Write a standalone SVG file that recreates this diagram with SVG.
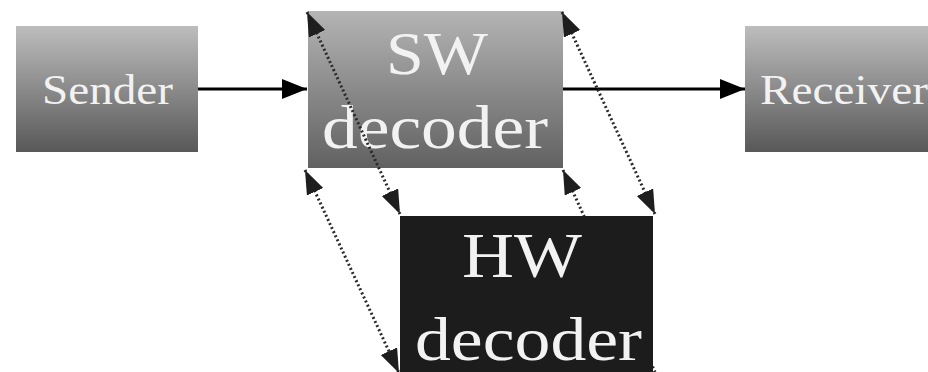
<svg xmlns="http://www.w3.org/2000/svg" width="928" height="372" viewBox="0 0 928 372">
<style>
.lbl{font-family:"Liberation Serif","Times New Roman",serif;fill:#f2f2f2}
.flow{stroke:#000;stroke-width:3;fill:none}
.dot{stroke:#2a2a2a;stroke-width:3;stroke-dasharray:2 2.5;fill:none}
</style>
<defs>
<linearGradient id="gSide" x1="0" y1="0" x2="0" y2="1">
<stop offset="0" stop-color="#bdbdbd"/>
<stop offset="1" stop-color="#585858"/>
</linearGradient>
<linearGradient id="gSW" x1="0" y1="0" x2="0" y2="1">
<stop offset="0" stop-color="#b4b4b4"/>
<stop offset="1" stop-color="#616161"/>
</linearGradient>
<marker id="solidHead" markerUnits="userSpaceOnUse" markerWidth="26" markerHeight="22" refX="25" refY="10" orient="auto">
<path d="M0,0 L25,10 L0,20 z" fill="#000"/>
</marker>
<marker id="dotHead" markerUnits="userSpaceOnUse" markerWidth="26" markerHeight="20" refX="24" refY="9" orient="auto-start-reverse">
<path d="M0,0 L24,9 L0,18 z" fill="#1e1e1e"/>
</marker>
</defs>
<rect width="928" height="372" fill="#fff"/>
<g id="sender">
<rect x="16" y="26" width="182" height="126" fill="url(#gSide)"/>
<text class="lbl" x="42" y="104" font-size="42" textLength="131" lengthAdjust="spacingAndGlyphs">Sender</text>
</g>
<g id="sw-decoder">
<rect x="308" y="11" width="255" height="157" fill="url(#gSW)"/>
<text class="lbl" x="386" y="74" font-size="62" textLength="102" lengthAdjust="spacingAndGlyphs">SW</text>
<text class="lbl" x="322" y="148" font-size="62" textLength="226" lengthAdjust="spacingAndGlyphs">decoder</text>
</g>
<g id="receiver">
<rect x="745" y="26" width="190" height="126" fill="url(#gSide)"/>
<text class="lbl" x="760" y="104" font-size="42" textLength="168" lengthAdjust="spacingAndGlyphs">Receiver</text>
</g>
<g id="connectors">
<line class="flow" x1="198" y1="89" x2="307" y2="89" marker-end="url(#solidHead)"/>
<line class="flow" x1="563" y1="89" x2="745" y2="89" marker-end="url(#solidHead)"/>
<line class="dot" x1="307" y1="12" x2="400" y2="214" marker-start="url(#dotHead)" marker-end="url(#dotHead)"/>
<line class="dot" x1="562" y1="12" x2="655" y2="214" marker-start="url(#dotHead)" marker-end="url(#dotHead)"/>
<line class="dot" x1="305" y1="170" x2="399" y2="373" marker-start="url(#dotHead)" marker-end="url(#dotHead)"/>
<line class="dot" x1="563" y1="170" x2="655" y2="372" marker-start="url(#dotHead)"/>
</g>
<g id="hw-decoder">
<rect x="400" y="216" width="253" height="160" fill="#1c1c1c"/>
<text class="lbl" x="462" y="277" font-size="64" textLength="120" lengthAdjust="spacingAndGlyphs">HW</text>
<text class="lbl" x="415" y="360" font-size="62" textLength="227" lengthAdjust="spacingAndGlyphs">decoder</text>
</g>
</svg>
